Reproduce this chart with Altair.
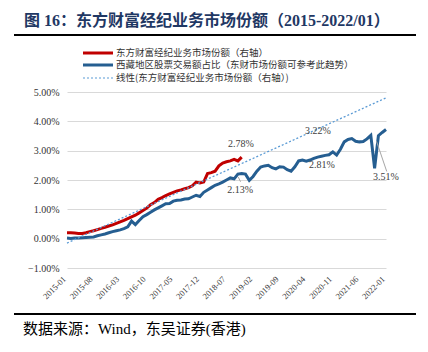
import altair as alt
import pandas as pd

# ---- data ----
tick_labels = ["2015-01", "2015-08", "2016-03", "2016-10", "2017-05", "2017-12", "2018-07",
               "2019-02", "2019-09", "2020-04", "2020-11", "2021-06", "2022-01"]

# 西藏地区股票交易额占比 (monthly, 2015-01 .. 2022-01), in %
blue_vals = [0.02, 0.01, 0.02, 0.02, 0.03, 0.04, 0.05, 0.06, 0.10, 0.13,
             0.16, 0.20, 0.24, 0.27, 0.30, 0.34, 0.40, 0.60, 0.48, 0.62,
             0.75, 0.82, 0.90, 0.98, 1.05, 1.12, 1.19, 1.20, 1.28, 1.31,
             1.32, 1.35, 1.36, 1.42, 1.48, 1.44, 1.58, 1.66, 1.74, 1.82,
             1.87, 1.93, 2.00, 2.07, 2.04, 2.20, 2.22, 2.20, 1.99, 2.12,
             2.30, 2.44, 2.48, 2.50, 2.42, 2.38, 2.45, 2.44, 2.35, 2.30,
             2.45, 2.65, 2.68, 2.64, 2.68, 2.74, 2.78, 2.81, 2.84, 2.86,
             2.96, 2.85, 3.05, 3.30, 3.38, 3.41, 3.32, 3.30, 3.31, 3.40,
             3.52, 2.40, 3.51, 3.62, 3.72]

# 东方财富经纪业务市场份额 (monthly, 2015-01 .. 2018-11), in %
red_vals = [0.20, 0.20, 0.19, 0.18, 0.18, 0.20, 0.24, 0.27, 0.31, 0.35,
            0.39, 0.43, 0.47, 0.52, 0.57, 0.62, 0.68, 0.74, 0.80, 0.88,
            0.96, 1.04, 1.16, 1.23, 1.34, 1.40, 1.47, 1.53, 1.58, 1.63,
            1.66, 1.70, 1.74, 1.80, 1.93, 1.90, 1.93, 2.22, 2.25, 2.30,
            2.48, 2.58, 2.62, 2.65, 2.70, 2.65, 2.78]

trend_idx = [0, 84]
trend_vals = [-0.15, 4.80]

ann_text = ["2.78%", "2.13%", "3.22%", "2.81%", "3.51%"]
ann_idx = [45.8, 45.6, 66.1, 67.1, 84.0]
ann_vals = [3.24, 1.65, 3.66, 2.50, 2.10]

lead_idx = [45.1, 81.5]
lead_idx2 = [45.7, 84.2]
lead_v = [2.10, 3.32]
lead_v2 = [1.94, 2.29]

legend_labels = ["东方财富经纪业务市场份额（右轴）",
                 "西藏地区股票交易额占比（东财市场份额可参考此趋势）",
                 "线性(东方财富经纪业务市场份额（右轴）)"]

title_text = "图 16：东方财富经纪业务市场份额（2015-2022/01）"
source_text = "数据来源：Wind，东吴证券(香港)"

# ---- tables ----
blue_df = pd.DataFrame({"i": list(range(len(blue_vals))), "v": blue_vals})
red_df = pd.DataFrame({"i": list(range(len(red_vals))), "v": red_vals})
trend_df = pd.DataFrame({"i": trend_idx, "v": trend_vals})
ann_df = pd.DataFrame({"i": ann_idx, "v": ann_vals, "t": ann_text})
lead_df = pd.DataFrame({"i": lead_idx, "i2": lead_idx2, "v": lead_v, "v2": lead_v2})

SERIF = "Liberation Serif, Noto Sans CJK SC"
CJK = "Noto Sans CJK SC"

label_arr = "[" + ",".join("'%s'" % s for s in tick_labels) + "]"

x_axis = alt.Axis(values=list(range(0, 85, 7)),
                  labelExpr=label_arr + "[round(datum.value/7)]",
                  labelAngle=-45, labelAlign="right", labelBaseline="middle",
                  labelFont="Liberation Serif", labelFontSize=8.5,
                  labelColor="#333333", labelPadding=9, labelOffset=-3,
                  labelFlush=False, labelOverlap=False, labelBound=False,
                  grid=False, domain=False, ticks=False, title=None)
y_axis = alt.Axis(values=[-1, 0, 1, 2, 3, 4, 5],
                  labelExpr="format(datum.value,'.2f')+'%'",
                  labelFont="Liberation Serif", labelFontSize=10,
                  labelColor="#333333", labelPadding=8,
                  labelOverlap=False, labelFlush=False, labelBound=False,
                  grid=True, gridColor="#d9d9d9", gridWidth=1,
                  domain=False, ticks=False, title=None)
x_scale = alt.Scale(domain=[0, 84], nice=False, zero=False)
y_scale = alt.Scale(domain=[-1, 5], nice=False, zero=False)

def X(field="i"):
    return alt.X(field + ":Q", scale=x_scale, axis=x_axis)

def Y(field="v"):
    return alt.Y(field + ":Q", scale=y_scale, axis=y_axis)

blue = alt.Chart(blue_df).mark_line(color="#255e91", strokeWidth=3).encode(x=X(), y=Y())
red = alt.Chart(red_df).mark_line(color="#c00000", strokeWidth=3).encode(x=X(), y=Y())
trend = alt.Chart(trend_df).mark_line(color="#5b9bd5", strokeWidth=1.3,
                                      strokeDash=[2, 2]).encode(x=X(), y=Y())
leads = alt.Chart(lead_df).mark_rule(color="#a6a6a6", strokeWidth=1).encode(
    x=X(), x2="i2:Q", y=Y(), y2="v2:Q")
anns = alt.Chart(ann_df).mark_text(font="Liberation Serif", fontSize=10,
                                   color="#404040").encode(x=X(), y=Y(), text="t:N")

# ---- title, legend, source (outside the plot area) ----
title = alt.Chart(pd.DataFrame({"t": [title_text]})).mark_text(
    font=SERIF, fontSize=16, fontWeight="bold", color="#1f3864",
    align="left", baseline="middle").encode(
    x=alt.value(-43), y=alt.value(-71), text="t:N")
title_rule = alt.Chart(pd.DataFrame({"a": [0]})).mark_rule(color="#000000", strokeWidth=2).encode(
    x=alt.value(-53), x2=alt.value(349), y=alt.value(-57))
src_rule = alt.Chart(pd.DataFrame({"a": [0]})).mark_rule(color="#000000", strokeWidth=2).encode(
    x=alt.value(-53), x2=alt.value(349), y=alt.value(222))
source = alt.Chart(pd.DataFrame({"t": [source_text]})).mark_text(
    font=SERIF, fontSize=15, color="#000000", align="left", baseline="middle").encode(
    x=alt.value(-44), y=alt.value(237), text="t:N")

leg_y = [-39, -27, -14]
leg_layers = []
leg_layers.append(alt.Chart(pd.DataFrame({"a": [0]})).mark_rule(color="#c00000", strokeWidth=3).encode(
    x=alt.value(16), x2=alt.value(46), y=alt.value(leg_y[0])))
leg_layers.append(alt.Chart(pd.DataFrame({"a": [0]})).mark_rule(color="#255e91", strokeWidth=3).encode(
    x=alt.value(16), x2=alt.value(46), y=alt.value(leg_y[1])))
leg_layers.append(alt.Chart(pd.DataFrame({"a": [0]})).mark_rule(color="#5b9bd5", strokeWidth=1.2,
                                                                 strokeDash=[2, 2]).encode(
    x=alt.value(16), x2=alt.value(46), y=alt.value(leg_y[2])))
for k, lab in enumerate(legend_labels):
    leg_layers.append(alt.Chart(pd.DataFrame({"t": [lab]})).mark_text(
        font=CJK, fontSize=9.5, color="#333333", align="left", baseline="middle").encode(
        x=alt.value(49), y=alt.value(leg_y[k]), text="t:N"))

chart = alt.layer(blue, red, trend, leads, anns, title, title_rule, src_rule, source,
                  *leg_layers).properties(
    width=319, height=176,
    autosize=alt.AutoSizeParams(type="none"),
    padding={"left": 67, "top": 92, "right": 42, "bottom": 84},
    background="white",
).configure_view(stroke=None)

chart.save("out.html", embed_options={"renderer": "svg", "actions": False})
